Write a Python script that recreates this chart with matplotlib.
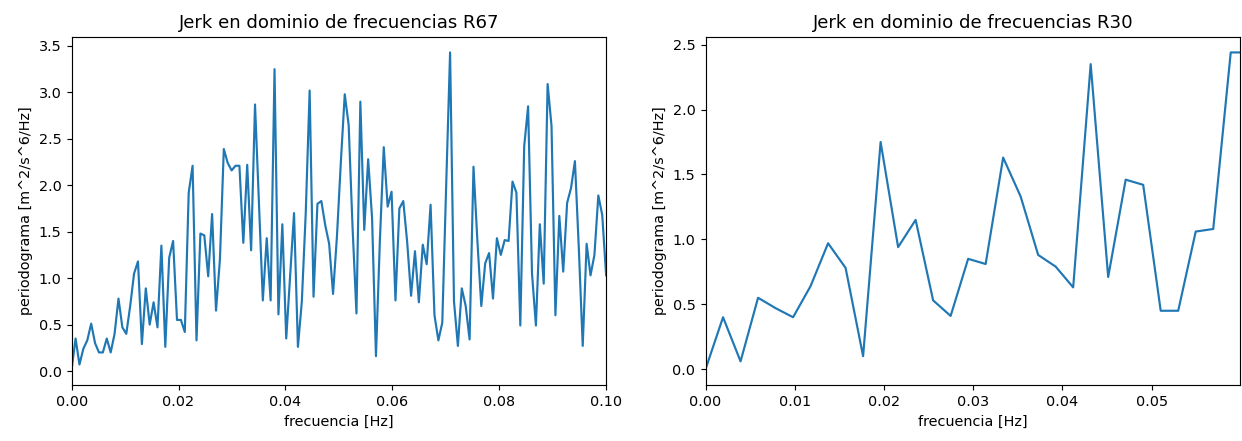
import numpy as np
import matplotlib.pyplot as plt

# periodogram of the jerk
# R67: evenly spaced frequencies, last one lands on 0.1 Hz
df_r67 = 0.1 / 137
per_r67 = [0.02, 0.35, 0.07, 0.24, 0.33, 0.51, 0.30, 0.20, 0.20, 0.35,
           0.20, 0.40, 0.78, 0.47, 0.40, 0.70, 1.05, 1.18, 0.29, 0.89,
           0.50, 0.74, 0.47, 1.35, 0.26, 1.22, 1.40, 0.55, 0.55, 0.42,
           1.92, 2.21, 0.33, 1.48, 1.46, 1.02, 1.69, 0.65, 1.20, 2.39,
           2.24, 2.16, 2.21, 2.21, 1.38, 2.22, 1.30, 2.87, 1.80, 0.76,
           1.43, 0.76, 3.25, 0.61, 1.58, 0.35, 1.03, 1.70, 0.26, 0.75,
           1.70, 3.02, 0.80, 1.80, 1.83, 1.57, 1.37, 0.83, 1.45, 2.25,
           2.98, 2.65, 1.55, 0.62, 2.90, 1.52, 2.28, 1.65, 0.16, 1.40,
           2.41, 1.77, 1.93, 0.76, 1.75, 1.83, 1.39, 0.81, 1.29, 0.74,
           1.36, 1.15, 1.79, 0.60, 0.33, 0.52, 2.00, 3.43, 0.75, 0.27,
           0.89, 0.70, 0.34, 2.20, 1.40, 0.70, 1.16, 1.27, 0.78, 1.43,
           1.25, 1.41, 1.40, 2.04, 1.92, 0.49, 2.42, 2.85, 1.05, 0.49,
           1.58, 0.94, 3.09, 2.64, 0.60, 1.67, 1.07, 1.81, 1.97, 2.26,
           1.32, 0.27, 1.37, 1.03, 1.25, 1.89, 1.68, 1.03]

# R30: coarser frequency step
df_r30 = 0.001962
per_r30 = [0.00, 0.40, 0.06, 0.55, 0.47, 0.40, 0.64, 0.97, 0.78, 0.10,
           1.75, 0.94, 1.15, 0.53, 0.41, 0.85, 0.81, 1.63, 1.33, 0.88,
           0.79, 0.63, 2.35, 0.71, 1.46, 1.42, 0.45, 0.45, 1.06, 1.08,
           2.44, 2.44]

f_r67 = np.arange(len(per_r67)) * df_r67
f_r30 = np.arange(len(per_r30)) * df_r30

DPI = 103.5
fig, (ax1, ax2) = plt.subplots(1, 2, figsize=(1242 / DPI, 441 / DPI), dpi=DPI)
fig.subplots_adjust(left=0.0577, right=0.9984, bottom=0.127, top=0.917, wspace=0.186)

ax1.plot(f_r67, per_r67)
ax1.set_xlim(0, 0.1)
ax1.set_title("Jerk en dominio de frecuencias R67", fontsize=12.6)
ax1.set_xlabel("frecuencia [Hz]")
ax1.set_ylabel("periodograma [m^2/s^6/Hz]")

ax2.plot(f_r30, per_r30)
ax2.set_xlim(0, 0.0599)
ax2.set_title("Jerk en dominio de frecuencias R30", fontsize=12.6)
ax2.set_xlabel("frecuencia [Hz]")
ax2.set_ylabel("periodograma [m^2/s^6/Hz]")

fig.savefig("out.png", dpi=DPI)
